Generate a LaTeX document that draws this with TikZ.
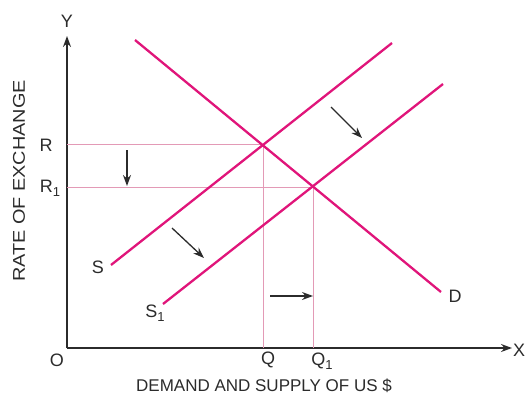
\documentclass[tikz,border=0pt]{standalone}
\usepackage{fontspec}
\setmainfont{Liberation Sans}
\usetikzlibrary{arrows.meta}
\definecolor{Curve}{HTML}{E0157A}
\definecolor{Guide}{HTML}{E39AB6}
\definecolor{Ink}{HTML}{2B2B2B}
\newcommand{\sub}[1]{\raisebox{-4pt}{\fontsize{13}{13}\selectfont #1}}
\tikzset{
  axis/.style={draw=Ink, line width=1.4pt, -{Stealth[length=11pt, width=8pt]}},
  curve/.style={draw=Curve, line width=2.3pt},
  guide/.style={draw=Guide, line width=1pt},
  shiftarrow/.style={draw=Ink, line width=1.3pt, -{Stealth[length=11pt, width=8pt]}},
  lbl/.style={font=\fontsize{18}{20}\selectfont, text=Ink, inner sep=1pt},
  title/.style={font=\fontsize{17}{19}\selectfont, text=Ink, inner sep=1pt}
}
\begin{document}
\begin{tikzpicture}[x=1pt, y=-1pt]
\useasboundingbox (0,0) rectangle (525,399);
% axes
\coordinate (o) at (67,348);
\coordinate (ytip) at (67,36);
\coordinate (xtip) at (512,348);
\draw[axis] (o) -- (ytip);
\draw[axis] (o) -- (xtip);
\node[lbl] (ylbl) at (67,21) {Y};
\node[lbl] (xlbl) at (519,350) {X};
\node[lbl] (olbl) at (57,360) {O};
% equilibrium points
\coordinate (e) at (263,144);
\coordinate (e1) at (313,187);
\coordinate (r) at (67,144);
\coordinate (r1) at (67,187);
\coordinate (q) at (263,348);
\coordinate (q1) at (313,348);
% guide lines
\draw[guide] (r) -- (e);
\draw[guide] (r1) -- (e1);
\draw[guide] (e) -- (q);
\draw[guide] (e1) -- (q1);
% demand and supply curves
\coordinate (d0) at (135,40);
\coordinate (d1) at (441,292);
\coordinate (s0) at (111,265);
\coordinate (s1) at (392,43);
\coordinate (t0) at (163,304);
\coordinate (t1) at (443,84);
\draw[curve] (d0) -- (d1);
\draw[curve] (s0) -- (s1);
\draw[curve] (t0) -- (t1);
% labels
\node[lbl] (rlbl) at (46,145) {R};
\node[lbl] (r1lbl) at (50,188) {R\sub{1}};
\node[lbl] (qlbl) at (268,360) {Q};
\node[lbl] (q1lbl) at (322,361) {Q\sub{1}};
\node[lbl] (slbl) at (98,267) {S};
\node[lbl] (s1lbl) at (155,313) {S\sub{1}};
\node[lbl] (dlbl) at (455,296) {D};
% shift arrows
\coordinate (a0) at (127,150);
\coordinate (a1) at (127,186);
\coordinate (b0) at (172,228);
\coordinate (b1) at (204,258);
\coordinate (c0) at (331,107);
\coordinate (c1) at (362,138);
\coordinate (f0) at (270,296);
\coordinate (f1) at (313,296);
\draw[shiftarrow] (a0) -- (a1);
\draw[shiftarrow] (b0) -- (b1);
\draw[shiftarrow] (c0) -- (c1);
\draw[shiftarrow] (f0) -- (f1);
% axis titles
\node[title, rotate=90, xscale=1.17] (ytitle) at (19,181) {RATE OF EXCHANGE};
\node[title] (xtitle) at (264,386) {DEMAND AND SUPPLY OF US \$};
\end{tikzpicture}
\end{document}
